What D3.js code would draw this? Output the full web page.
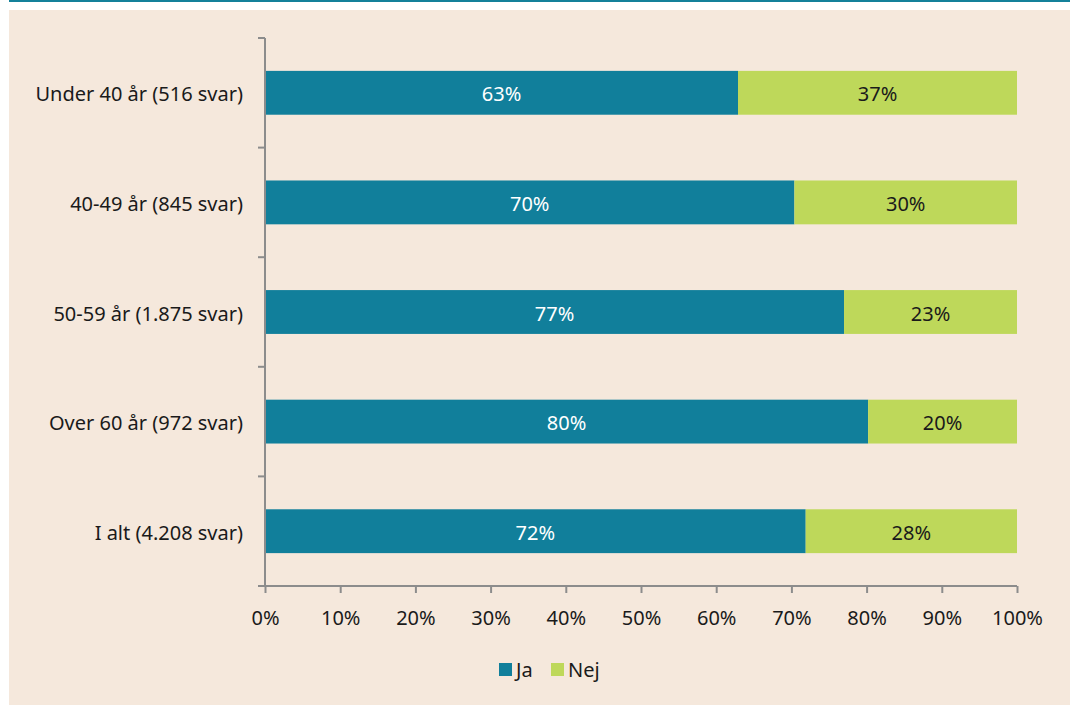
<!DOCTYPE html>
<html><head><meta charset="utf-8">
<script src="https://cdn.jsdelivr.net/npm/d3@7"></script>
<style>
html,body{margin:0;padding:0;background:#fff;}
svg{display:block;}
text{font-family:"Noto Sans","Open Sans",sans-serif;}
</style></head>
<body>
<svg id="c" width="1070" height="705"></svg>
<script>
const categories = ["Under 40 år (516 svar)","40-49 år (845 svar)","50-59 år (1.875 svar)","Over 60 år (972 svar)","I alt (4.208 svar)"];
const jaValues = [62.9,70.4,77.0,80.2,71.9];
const nejValues = [37.1,29.6,23.0,19.8,28.1];
const seriesNames = ["Ja","Nej"];
const tickValues = [0,10,20,30,40,50,60,70,80,90,100];

const colors = {Ja:"#117f9b", Nej:"#bed85a"};
const FS = 20;
const svg = d3.select("#c");
svg.append("rect").attr("x",9).attr("y",0).attr("width",1061).attr("height",2).attr("fill","#14819a");
svg.append("rect").attr("x",9).attr("y",10).attr("width",1061).attr("height",695).attr("fill","#f5e8dc");

const x = d3.scaleLinear().domain([0,100]).range([265,1017]);
const y = d3.scaleBand().domain(categories).range([38,586]).paddingInner(0.6).paddingOuter(0.3);

const rows = categories.map((c,i)=>({cat:c, Ja:jaValues[i], Nej:nejValues[i]}));
const stack = d3.stack().keys(seriesNames)(rows);

const g = svg.append("g");
stack.forEach(s=>{
  const key = s.key;
  g.selectAll(null).data(s).enter().append("rect")
    .attr("x",d=>x(d[0])).attr("width",d=>x(d[1])-x(d[0]))
    .attr("y",d=>y(d.data.cat)).attr("height",y.bandwidth())
    .attr("fill",colors[key]);
  g.selectAll(null).data(s).enter().append("text")
    .attr("x",d=>(x(d[0])+x(d[1]))/2)
    .attr("y",d=>y(d.data.cat)+y.bandwidth()/2)
    .attr("dy","0.43em").attr("text-anchor","middle")
    .attr("font-size",FS)
    .attr("fill",key==="Ja"?"#ffffff":"#1a1a1a")
    .text(d=>Math.round(d.data[key])+"%");
});

// y axis
const axisColor="#8c8c8c";
svg.append("line").attr("x1",265).attr("x2",265).attr("y1",38).attr("y2",586).attr("stroke",axisColor).attr("stroke-width",2);
const yTicks = [38].concat(categories.map(c=>y(c)-y.step()*y.paddingInner()/2+y.step()));
yTicks.forEach(t=>{
  svg.append("line").attr("x1",258).attr("x2",265).attr("y1",t).attr("y2",t).attr("stroke",axisColor).attr("stroke-width",2);
});
svg.selectAll(null).data(categories).enter().append("text")
  .attr("x",243).attr("y",d=>y(d)+y.bandwidth()/2).attr("dy","0.43em")
  .attr("text-anchor","end").attr("font-size",FS).attr("fill","#1a1a1a").text(d=>d);

// x axis
const xa = svg.append("g").attr("transform","translate(0,586)")
  .call(d3.axisBottom(x).tickValues(tickValues).tickSize(7).tickPadding(18).tickFormat(d=>d+"%"));
xa.select(".domain").attr("stroke",axisColor).attr("stroke-width",2).attr("d","M258,0H1017");
xa.selectAll(".tick line").attr("stroke",axisColor).attr("stroke-width",2);
xa.selectAll(".tick text").attr("font-size",FS).attr("fill","#1a1a1a").attr("font-family","'Noto Sans',sans-serif");

// legend
const leg = svg.append("g");
const legItems = [{n:"Ja",x:499},{n:"Nej",x:551}];
legItems.forEach(it=>{
  leg.append("rect").attr("x",it.x).attr("y",663).attr("width",13).attr("height",13).attr("fill",colors[it.n]);
  leg.append("text").attr("x",it.x+17).attr("y",669).attr("dy","0.40em").attr("font-size",FS).attr("fill","#1a1a1a").text(it.n);
});
</script>
</body></html>
